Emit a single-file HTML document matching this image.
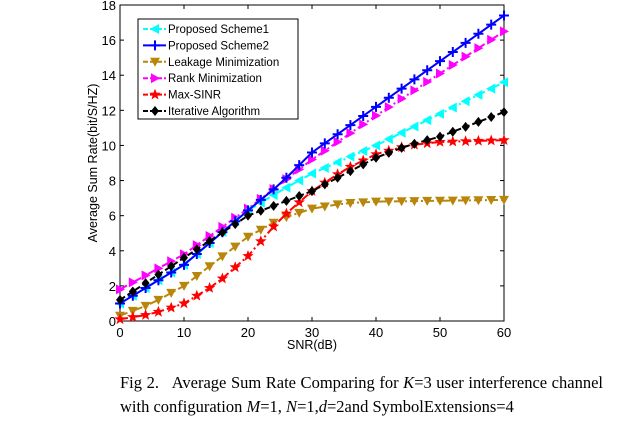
<!DOCTYPE html>
<html><head><style>
body{margin:0;background:#fff;width:637px;height:428px;overflow:hidden}
svg text{font-family:"Liberation Sans",sans-serif}
.cap{position:absolute;font-family:"Liberation Serif",serif;font-size:16.5px;color:#000;white-space:nowrap}
</style></head><body>
<svg id="s" width="637" height="428" style="position:absolute;left:0;top:0"></svg>
<div class="cap" style="left:120px;top:373px;width:483px;text-align:justify;text-align-last:justify;white-space:normal">Fig 2.&nbsp;&nbsp; Average Sum Rate Comparing for <i>K</i>=3 user interference channel</div>
<div class="cap" style="left:120px;top:397px">with configuration <i>M</i>=1, <i>N</i>=1,<i>d</i>=2and SymbolExtensions=4</div>
<script>
const X0=120,X1=504,Y0=321,Y1=5;
const fx=v=>X0+(X1-X0)*v/60, fy=v=>Y0-(Y0-Y1)*v/18;
let h='';
h+=`<rect x="${X0}" y="${Y1}" width="${X1-X0}" height="${Y0-Y1}" fill="#fff" stroke="#000" stroke-width="1"/>`;
for(let i=0;i<=6;i++){let x=fx(i*10);h+=`<line x1="${x}" y1="${Y0}" x2="${x}" y2="${Y0-4}" stroke="#000"/><line x1="${x}" y1="${Y1}" x2="${x}" y2="${Y1+4}" stroke="#000"/><text x="${x}" y="${Y0+16}" font-size="13" text-anchor="middle">${i*10}</text>`;}
for(let i=0;i<=9;i++){let y=fy(i*2);h+=`<line x1="${X0}" y1="${y}" x2="${X0+4}" y2="${y}" stroke="#000"/><line x1="${X1}" y1="${y}" x2="${X1-4}" y2="${y}" stroke="#000"/><text x="${X0-4}" y="${y+5}" font-size="13" text-anchor="end">${i*2}</text>`;}
h+=`<text x="${(X0+X1)/2}" y="349" font-size="12.5" text-anchor="middle">SNR(dB)</text>`;
h+=`<text transform="translate(97,${(Y0+Y1)/2}) rotate(-90)" font-size="12.5" text-anchor="middle">Average Sum Rate(bit/S/HZ)</text>`;
function interp(k,x){for(let i=0;i<k.length-1;i++){if(x>=k[i][0]&&x<=k[i+1][0]){let t=(x-k[i][0])/(k[i+1][0]-k[i][0]);return k[i][1]+t*(k[i+1][1]-k[i][1]);}}return k[k.length-1][1];}
const S=[
{c:'#ff00ff',d:'8,3,2,3',m:'tr',k:[[0,1.8],[10,3.8],[20,6.4],[30,9.2],[40,11.7],[50,14.1],[60,16.5]]},
{c:'#b8860b',d:'8,3,2,3',m:'tv',k:[[0,0.3],[5,1],[10,2],[15,3.4],[20,4.8],[25,5.8],[30,6.4],[35,6.7],[40,6.8],[60,6.9]]},
{c:'#ff0000',d:'8,3,2,3',m:'st',k:[[0,0.1],[5,0.4],[10,1],[15,2.1],[20,3.7],[25,5.8],[30,7.4],[35,8.6],[40,9.5],[45,10],[50,10.2],[60,10.3]]},
{c:'#00ffff',d:'8,3,2,3',m:'tl',k:[[0,1.0],[10,3.2],[20,6.3],[25,7.4],[30,8.4],[40,10],[50,11.8],[60,13.6]]},
{c:'#0000ff',d:'',m:'pl',k:[[0,1.0],[10,3.2],[20,6.3],[25,7.8],[30,9.6],[40,12.2],[50,14.8],[60,17.4]]},
{c:'#000',d:'6,3',m:'di',k:[[0,1.2],[10,3.6],[20,6],[25,6.7],[30,7.4],[40,9.3],[45,10],[50,10.5],[55,11.2],[60,11.9]]}
];
function mk(m,x,y,c){
 if(m=='tr')return `<polygon points="${x-4},${y-5} ${x+5},${y} ${x-4},${y+5}" fill="${c}"/>`;
 if(m=='tl')return `<polygon points="${x+4},${y-5} ${x-5},${y} ${x+4},${y+5}" fill="${c}"/>`;
 if(m=='tv')return `<polygon points="${x-5},${y-4} ${x+5},${y-4} ${x},${y+5}" fill="${c}"/>`;
 if(m=='di')return `<polygon points="${x},${y-5} ${x+4},${y} ${x},${y+5} ${x-4},${y}" fill="${c}"/>`;
 if(m=='pl')return `<path d="M${x-5} ${y}H${x+5}M${x} ${y-5}V${y+5}" stroke="${c}" stroke-width="2"/>`;
 if(m=='st'){let p=[];for(let i=0;i<10;i++){let r=i%2?2.5:6,a=-Math.PI/2+i*Math.PI/5;p.push((x+r*Math.cos(a)).toFixed(1)+','+(y+r*Math.sin(a)).toFixed(1));}return `<polygon points="${p.join(' ')}" fill="${c}"/>`;}
}
for(const s of S){let pts=[];for(let x=0;x<=60;x+=2)pts.push([fx(x),fy(interp(s.k,x))]);
 h+=`<polyline points="${pts.map(p=>p.join(',')).join(' ')}" fill="none" stroke="${s.c}" stroke-width="2" ${s.d?'stroke-dasharray="'+s.d+'"':''}/>`;
 for(const p of pts)h+=mk(s.m,p[0],p[1],s.c);}
h+=`<rect x="138" y="19" width="160" height="100" fill="#fff" stroke="#000"/>`;
const L=[['Proposed Scheme1',3],['Proposed Scheme2',4],['Leakage Minimization',1],['Rank Minimization',0],['Max-SINR',2],['Iterative Algorithm',5]];
L.forEach((l,i)=>{let y=29+i*16.4,s=S[l[1]];h+=`<line x1="143" y1="${y}" x2="166" y2="${y}" stroke="${s.c}" stroke-width="2" ${s.d?'stroke-dasharray="5,2"':''}/>`+mk(s.m,155,y,s.c)+`<text x="168" y="${y+4}" font-size="11.5">${l[0]}</text>`;});
document.getElementById('s').innerHTML=h;
</script>
</body></html>
